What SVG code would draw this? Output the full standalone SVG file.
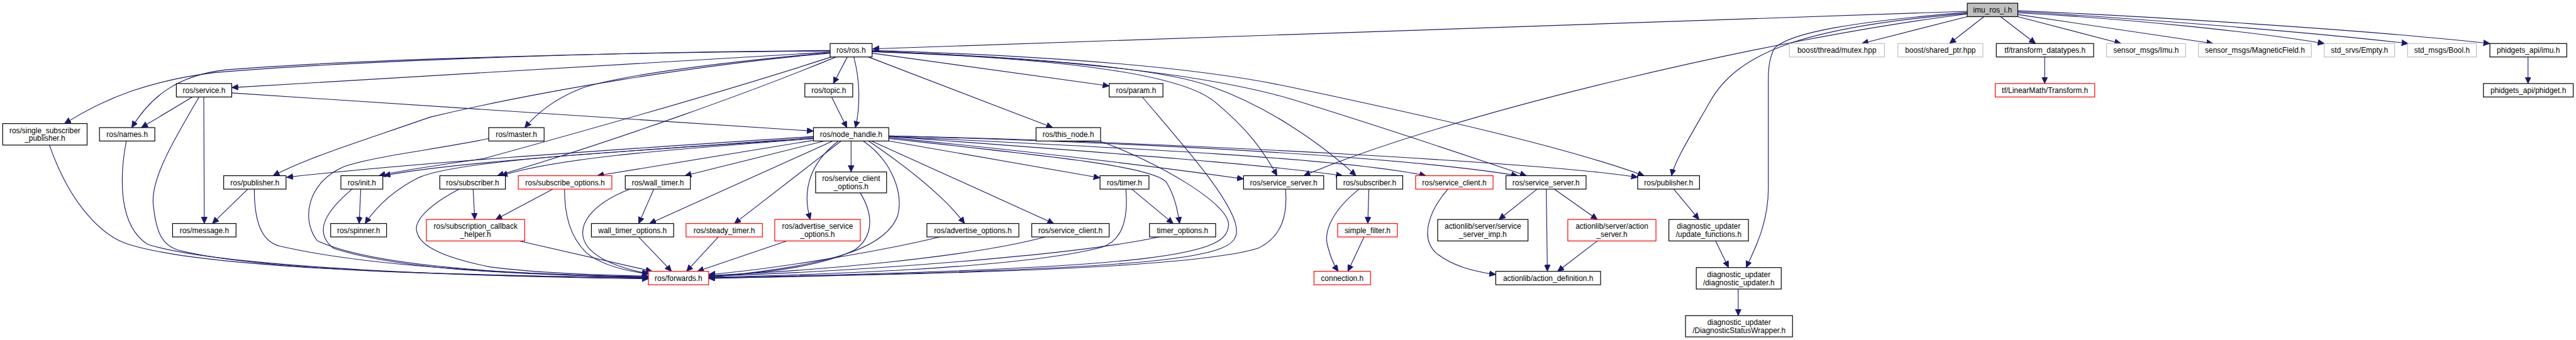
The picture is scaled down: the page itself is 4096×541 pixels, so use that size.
<svg xmlns="http://www.w3.org/2000/svg" width="4096" height="541" viewBox="0 0 4096 541">
<style>
.node rect{fill:#ffffff;stroke:#000000;stroke-width:1.4}
.node.red rect{stroke:#ff0000}
.node.gray rect{stroke:#bfbfbf}
.node.root rect{fill:#bfbfbf;stroke:#000000}
.node text{font-family:"Liberation Sans",Arial,Helvetica,sans-serif;font-size:14px;fill:#000000;text-anchor:middle}
#edges path{fill:none;stroke:#191970;stroke-width:1.3;marker-end:url(#arr)}
</style>
<defs>
<marker id="arr" markerUnits="userSpaceOnUse" markerWidth="14" markerHeight="12" refX="12" refY="5.5" orient="auto">
<path d="M0,0 L12,5.5 L0,11 z" fill="#191970" stroke="#191970" stroke-width="1"/>
</marker>
</defs>
<rect width="4096" height="541" fill="#ffffff"/>
<g transform="scale(0.8549)">
<g id="edges">
<!-- imu_ros_i.h -->
<path d="M3659,21 L1623,91"/>
<path d="M3659,31 L3463,81"/>
<path d="M3690,31 L3626,81"/>
<path d="M3721,31 L3786,81"/>
<path d="M3753,31 L3945,81"/>
<path d="M3753,27 L4116,81"/>
<path d="M3753,24 C3950,34 4200,60 4323,81"/>
<path d="M3753,22 C3950,32 4300,60 4479,81"/>
<path d="M3753,20 C3950,28 4400,55 4631,81"/>
<path d="M3659,26 C3300,70 2700,210 2425,327"/>
<path d="M3659,25 C3350,50 3230,100 3180,190 C3140,260 3115,300 3109,327"/>
<path d="M3659,23 C3450,40 3330,60 3300,90 C3290,110 3289,130 3289,150 L3289,350 C3289,420 3260,470 3248,498"/>
<!-- ros/ros.h -->
<path d="M1544,94 C1200,96 700,110 400,135 C280,150 200,180 120,230"/>
<path d="M1544,95 C1200,97 700,108 420,130 C330,140 280,180 245,237.5"/>
<path d="M1544,97 L431,163"/>
<path d="M1544,98 C1350,115 1150,140 1080,165 C1030,185 1000,210 976,237.5"/>
<path d="M1544,99 C1300,120 1000,170 800,218 C680,260 580,290 508,327"/>
<path d="M1546,106 C1350,170 1100,240 900,295 C800,310 740,318 705,327"/>
<path d="M1555,106 C1400,170 1150,260 925,327"/>
<path d="M1576,106 L1550,155.5"/>
<path d="M1588,106 C1600,150 1600,200 1591,237.5"/>
<path d="M1622,99 L2063,160"/>
<path d="M1615,106 L1958,237.5"/>
<path d="M1622,96 C2000,110 2200,140 2260,190 C2320,240 2350,280 2375,327"/>
<path d="M1622,96 C1900,105 2150,125 2250,160 C2350,195 2450,260 2522,327"/>
<path d="M1622,95 C2000,110 2250,140 2400,184 C2550,230 2700,280 2839,327"/>
<path d="M1622,94 C2000,105 2250,130 2400,162 C2650,215 2900,270 3058,327"/>
<!-- ros/service.h -->
<path d="M357,181 L263,237.5"/>
<path d="M379,181 L380,416"/>
<path d="M370,181 C330,250 280,330 285,380 C290,430 300,455 330,465 C500,510 1000,515 1206,517"/>
<path d="M431,173 L1513,244"/>
<!-- level 3/4 to forwards etc -->
<path d="M92,270 C130,380 190,440 240,455 C400,505 900,512 1206,518"/>
<path d="M235,262 C222,330 220,420 275,455 C420,500 900,515 1206,519"/>
<path d="M461,352 L395,416"/>
<path d="M473,352 C473,420 490,450 520,458 C700,500 1000,510 1206,517"/>
<path d="M671,352 L668,416"/>
<path d="M655,352 C610,390 580,430 620,462 C750,505 1000,512 1206,516"/>
<path d="M909,258 C800,280 700,290 640,310 C570,340 560,410 590,448 C700,500 1000,512 1206,515"/>
<!-- ros/node_handle.h -->
<path d="M1513,254 C1200,275 800,300 533,330"/>
<path d="M1513,256 C1200,280 850,300 714,327"/>
<path d="M1513,258 C1100,285 850,300 780,330 C730,355 700,385 679,416"/>
<path d="M1513,258 C1300,275 1050,290 932,327"/>
<path d="M1605,262 C1660,300 1680,360 1670,400 C1650,460 1550,495 1318,516"/>
<path d="M1514,261 L1111,327"/>
<path d="M1535,262 L1274,327"/>
<path d="M1550,262 L1208,416"/>
<path d="M1565,262 L1366,416"/>
<path d="M1560,262 C1510,300 1490,350 1507,408.5"/>
<path d="M1583,262 L1583,320"/>
<path d="M1615,262 C1700,320 1760,370 1794,416"/>
<path d="M1620,262 L1960,416"/>
<path d="M1651,262 L2046,331"/>
<path d="M1653,258 C1950,290 2150,310 2170,340 C2185,365 2190,390 2194,416"/>
<path d="M1653,256 C1950,285 2150,310 2313,333"/>
<path d="M1653,254 C2000,280 2350,305 2497,327"/>
<path d="M1653,254 C2100,275 2500,295 2652,327"/>
<path d="M1653,253 C2100,265 2600,290 2823,327"/>
<path d="M1653,253 C2200,265 2900,305 3046,330"/>
<path d="M1547,181 L1575,237.5"/>
<!-- to ros/forwards.h from right -->
<path d="M2125,181 C2200,270 2300,380 2300,430 C2300,480 2200,500 1318,518"/>
<path d="M2044,262 C2150,300 2290,380 2285,420 C2280,470 2200,500 1318,517"/>
<path d="M2105,352 L2182,416"/>
<path d="M2094,352 C2100,420 2080,450 2050,460 C1900,500 1500,512 1318,516"/>
<path d="M2156,441 C2000,475 1600,505 1318,514"/>
<path d="M1944,441 C1800,480 1500,505 1318,513"/>
<path d="M1748,441 C1650,465 1450,500 1318,511"/>
<path d="M2391,352 C2395,400 2385,440 2340,462 C2200,505 1600,512 1318,518"/>
<path d="M1600,359 C1625,400 1625,440 1590,465 C1520,500 1400,510 1318,514"/>
<path d="M1463,448.5 L1297,505"/>
<path d="M1336,441 L1277,505"/>
<path d="M1188,441 L1249,505"/>
<path d="M1216,352 L1188,416"/>
<path d="M1171,352 C1100,380 1070,420 1090,455 C1110,485 1160,500 1207,510"/>
<path d="M1028,352 L922,408.5"/>
<path d="M1050,352 C1050,400 1060,440 1090,470 C1120,495 1170,505 1206,510"/>
<path d="M880,352 L883,408.5"/>
<path d="M854,352 C800,380 770,410 775,430 C780,460 830,480 912,497 C1000,508 1100,512 1206,514"/>
<path d="M966,448.5 L1213,505"/>
<!-- right cluster -->
<path d="M2546,352 L2544,416"/>
<path d="M2528,352 C2480,390 2460,430 2470,460 C2475,480 2482,495 2489,505"/>
<path d="M2537,441 L2507,505"/>
<path d="M2693,352 C2660,390 2640,440 2670,470 C2700,495 2740,505 2782,511"/>
<path d="M2859,352 L2788,408.5"/>
<path d="M2876,352 L2878,505"/>
<path d="M2891,352 L2971,408.5"/>
<path d="M2971,448.5 L2897,505"/>
<path d="M3113,352 L3160,408.5"/>
<path d="M3191,448.5 L3215,498"/>
<path d="M3233,538 L3233,587.5"/>
<path d="M3803,106 L3803,155.5"/>
<path d="M4702,106 L4702,155.5"/>
</g>
<g id="n_imu" class="node root"><rect x="3659" y="6" width="94" height="25"/><text x="3706" y="23.5">imu_ros_i.h</text></g>
<g id="n_ros" class="node"><rect x="1544" y="81" width="78" height="25"/><text x="1583" y="98.5">ros/ros.h</text></g>
<g id="n_boost_mutex" class="node gray"><rect x="3328" y="81" width="177" height="25"/><text x="3416.5" y="98.5">boost/thread/mutex.hpp</text></g>
<g id="n_boost_shared" class="node gray"><rect x="3530" y="81" width="158" height="25"/><text x="3609" y="98.5">boost/shared_ptr.hpp</text></g>
<g id="n_tf_dt" class="node"><rect x="3713" y="81" width="181" height="25"/><text x="3803.5" y="98.5">tf/transform_datatypes.h</text></g>
<g id="n_sm_imu" class="node gray"><rect x="3918" y="81" width="147" height="25"/><text x="3991.5" y="98.5">sensor_msgs/Imu.h</text></g>
<g id="n_sm_mag" class="node gray"><rect x="4089" y="81" width="210" height="25"/><text x="4194" y="98.5">sensor_msgs/MagneticField.h</text></g>
<g id="n_std_empty" class="node gray"><rect x="4323" y="81" width="131" height="25"/><text x="4388.5" y="98.5">std_srvs/Empty.h</text></g>
<g id="n_std_bool" class="node gray"><rect x="4478" y="81" width="128" height="25"/><text x="4542" y="98.5">std_msgs/Bool.h</text></g>
<g id="n_ph_imu" class="node"><rect x="4631" y="81" width="143" height="25"/><text x="4702.5" y="98.5">phidgets_api/imu.h</text></g>
<g id="n_service" class="node"><rect x="328" y="155.5" width="103" height="25"/><text x="379.5" y="173">ros/service.h</text></g>
<g id="n_topic" class="node"><rect x="1497" y="155.5" width="89" height="25"/><text x="1541.5" y="173">ros/topic.h</text></g>
<g id="n_param" class="node"><rect x="2063" y="155.5" width="100" height="25"/><text x="2113" y="173">ros/param.h</text></g>
<g id="n_tf_lm" class="node red"><rect x="3711" y="155.5" width="185" height="25"/><text x="3803.5" y="173">tf/LinearMath/Transform.h</text></g>
<g id="n_ph_phidget" class="node"><rect x="4619" y="155.5" width="167" height="25"/><text x="4702.5" y="173">phidgets_api/phidget.h</text></g>
<g id="n_ssp" class="node"><rect x="5" y="230" width="157" height="40"/><text x="83.5" y="247.5">ros/single_subscriber</text><text x="83.5" y="262.5">_publisher.h</text></g>
<g id="n_names" class="node"><rect x="185" y="237.5" width="103" height="25"/><text x="236.5" y="255">ros/names.h</text></g>
<g id="n_master" class="node"><rect x="909" y="237.5" width="103" height="25"/><text x="960.5" y="255">ros/master.h</text></g>
<g id="n_nh" class="node"><rect x="1513" y="237.5" width="140" height="25"/><text x="1583" y="255">ros/node_handle.h</text></g>
<g id="n_this_node" class="node"><rect x="1927" y="237.5" width="120" height="25"/><text x="1987" y="255">ros/this_node.h</text></g>
<g id="n_pub1" class="node"><rect x="416" y="327" width="116" height="25"/><text x="474" y="344.5">ros/publisher.h</text></g>
<g id="n_init" class="node"><rect x="634" y="327" width="78" height="25"/><text x="673" y="344.5">ros/init.h</text></g>
<g id="n_sub1" class="node"><rect x="818" y="327" width="122" height="25"/><text x="879" y="344.5">ros/subscriber.h</text></g>
<g id="n_subopt" class="node red"><rect x="964" y="327" width="174" height="25"/><text x="1051" y="344.5">ros/subscribe_options.h</text></g>
<g id="n_wall_timer" class="node"><rect x="1163" y="327" width="121" height="25"/><text x="1223.5" y="344.5">ros/wall_timer.h</text></g>
<g id="n_sco" class="node"><rect x="1517" y="320" width="132" height="39"/><text x="1583" y="337">ros/service_client</text><text x="1583" y="352">_options.h</text></g>
<g id="n_timer" class="node"><rect x="2046" y="327" width="91" height="25"/><text x="2091.5" y="344.5">ros/timer.h</text></g>
<g id="n_ss1" class="node"><rect x="2313" y="327" width="149" height="25"/><text x="2387.5" y="344.5">ros/service_server.h</text></g>
<g id="n_sub2" class="node"><rect x="2486" y="327" width="123" height="25"/><text x="2547.5" y="344.5">ros/subscriber.h</text></g>
<g id="n_sc2" class="node red"><rect x="2633" y="327" width="144" height="25"/><text x="2705" y="344.5">ros/service_client.h</text></g>
<g id="n_ss2" class="node"><rect x="2801" y="327" width="149" height="25"/><text x="2875.5" y="344.5">ros/service_server.h</text></g>
<g id="n_pub2" class="node"><rect x="3046" y="327" width="115" height="25"/><text x="3103.5" y="344.5">ros/publisher.h</text></g>
<g id="n_message" class="node"><rect x="321" y="416" width="118" height="25"/><text x="380" y="433.5">ros/message.h</text></g>
<g id="n_spinner" class="node"><rect x="615" y="416" width="104" height="25"/><text x="667" y="433.5">ros/spinner.h</text></g>
<g id="n_sch" class="node red"><rect x="793" y="408.5" width="183" height="40"/><text x="884.5" y="426">ros/subscription_callback</text><text x="884.5" y="441">_helper.h</text></g>
<g id="n_wto" class="node"><rect x="1100" y="416" width="153" height="25"/><text x="1176.5" y="433.5">wall_timer_options.h</text></g>
<g id="n_steady" class="node red"><rect x="1276" y="416" width="142" height="25"/><text x="1347" y="433.5">ros/steady_timer.h</text></g>
<g id="n_aso" class="node red"><rect x="1441" y="408.5" width="159" height="40"/><text x="1520.5" y="426">ros/advertise_service</text><text x="1520.5" y="441">_options.h</text></g>
<g id="n_ao" class="node"><rect x="1724" y="416" width="171" height="25"/><text x="1809.5" y="433.5">ros/advertise_options.h</text></g>
<g id="n_sc1" class="node"><rect x="1919" y="416" width="144" height="25"/><text x="1991" y="433.5">ros/service_client.h</text></g>
<g id="n_to" class="node"><rect x="2138" y="416" width="123" height="25"/><text x="2199.5" y="433.5">timer_options.h</text></g>
<g id="n_sf" class="node red"><rect x="2488" y="416" width="111" height="25"/><text x="2543.5" y="433.5">simple_filter.h</text></g>
<g id="n_ssimp" class="node"><rect x="2674" y="408.5" width="168" height="40"/><text x="2758" y="426">actionlib/server/service</text><text x="2758" y="441">_server_imp.h</text></g>
<g id="n_as" class="node red"><rect x="2916" y="408.5" width="164" height="40"/><text x="2998" y="426">actionlib/server/action</text><text x="2998" y="441">_server.h</text></g>
<g id="n_uf" class="node"><rect x="3104" y="408.5" width="148" height="40"/><text x="3178" y="426">diagnostic_updater</text><text x="3178" y="441">/update_functions.h</text></g>
<g id="n_fwd" class="node red"><rect x="1206" y="505" width="112" height="25"/><text x="1262" y="522.5">ros/forwards.h</text></g>
<g id="n_conn" class="node red"><rect x="2444" y="505" width="105" height="25"/><text x="2496.5" y="522.5">connection.h</text></g>
<g id="n_ad" class="node"><rect x="2782" y="505" width="195" height="25"/><text x="2879.5" y="522.5">actionlib/action_definition.h</text></g>
<g id="n_du" class="node"><rect x="3155" y="498" width="158" height="40"/><text x="3234" y="515.5">diagnostic_updater</text><text x="3234" y="530.5">/diagnostic_updater.h</text></g>
<g id="n_dsw" class="node"><rect x="3135" y="587.5" width="199" height="39.5"/><text x="3234.5" y="604.7">diagnostic_updater</text><text x="3234.5" y="619.7">/DiagnosticStatusWrapper.h</text></g>
</g>
</svg>
